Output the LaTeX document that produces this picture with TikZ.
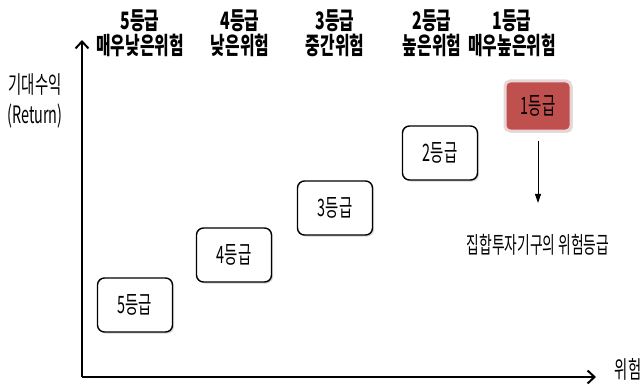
\documentclass[tikz,border=0pt]{standalone}
\usepackage{fontspec}
\setmainfont{Noto Sans CJK KR}[FakeStretch=0.6]
\newfontfamily\headfont{Noto Sans CJK KR}[FakeStretch=0.66]
\usetikzlibrary{arrows.meta,shadows}

\begin{document}
\begin{tikzpicture}[x=1pt, y=-1pt,
  gradebox/.style={draw, rounded corners=7pt, line width=1.4pt,
    minimum width=75pt, minimum height=54pt, fill=white,
    font=\fontsize{24}{26}\selectfont,
    drop shadow={shadow xshift=1.5pt, shadow yshift=-1.5pt, opacity=0.35}},
  header/.style={align=center, font=\headfont\bfseries\fontsize{24}{25}\selectfont},
  axislabel/.style={align=center, font=\fontsize{24}{30}\selectfont},
  axis/.style={line width=2.6pt, -{Straight Barb[length=7pt, width=13pt, line width=2pt]}}
]

\definecolor{c_high_risk}{RGB}{192,80,77}
\definecolor{c_high_border}{RGB}{232,214,214}

\useasboundingbox (0,0) rectangle (644,385);

% Axes
\coordinate (origin) at (82,377);
\coordinate (ytip) at (82,40);
\coordinate (xtip) at (596,377);
\draw[axis] (origin) -- (ytip);
\draw[axis] (origin) -- (xtip);

% Axis labels
\node (ylabel) at (35,101) [axislabel] {기대수익\\(Return)};
\node (xlabel) at (628,369) [axislabel] {위험};

% Column headers
\foreach \g/\x/\risk in {5/140/매우낮은위험, 4/240/낮은위험, 3/335/중간위험,
                         2/432/높은위험, 1/512/매우높은위험} {
  \node (head\g) at (\x, 33) [header] {\g{}등급\\\risk};
}

% Grade boxes
\foreach \g/\x/\y in {5/135/305, 4/234/255, 3/335/208, 2/440/153} {
  \node (grade\g) at (\x, \y) [gradebox] {\g{}등급};
}
\node (grade1) at (538,106) [gradebox, fill=c_high_risk, draw=c_high_border,
  line width=3pt, rounded corners=5pt, minimum width=66pt, minimum height=50pt] {1등급};

% Risk grade of the fund
\node (result) at (538,245) [font=\fontsize{23}{26}\selectfont] {집합투자기구의 위험등급};
\draw[line width=0.9pt, -{Triangle[length=9pt, width=6pt]}, shorten <=8pt, shorten >=28pt]
  (grade1) -- (result);

\end{tikzpicture}
\end{document}
